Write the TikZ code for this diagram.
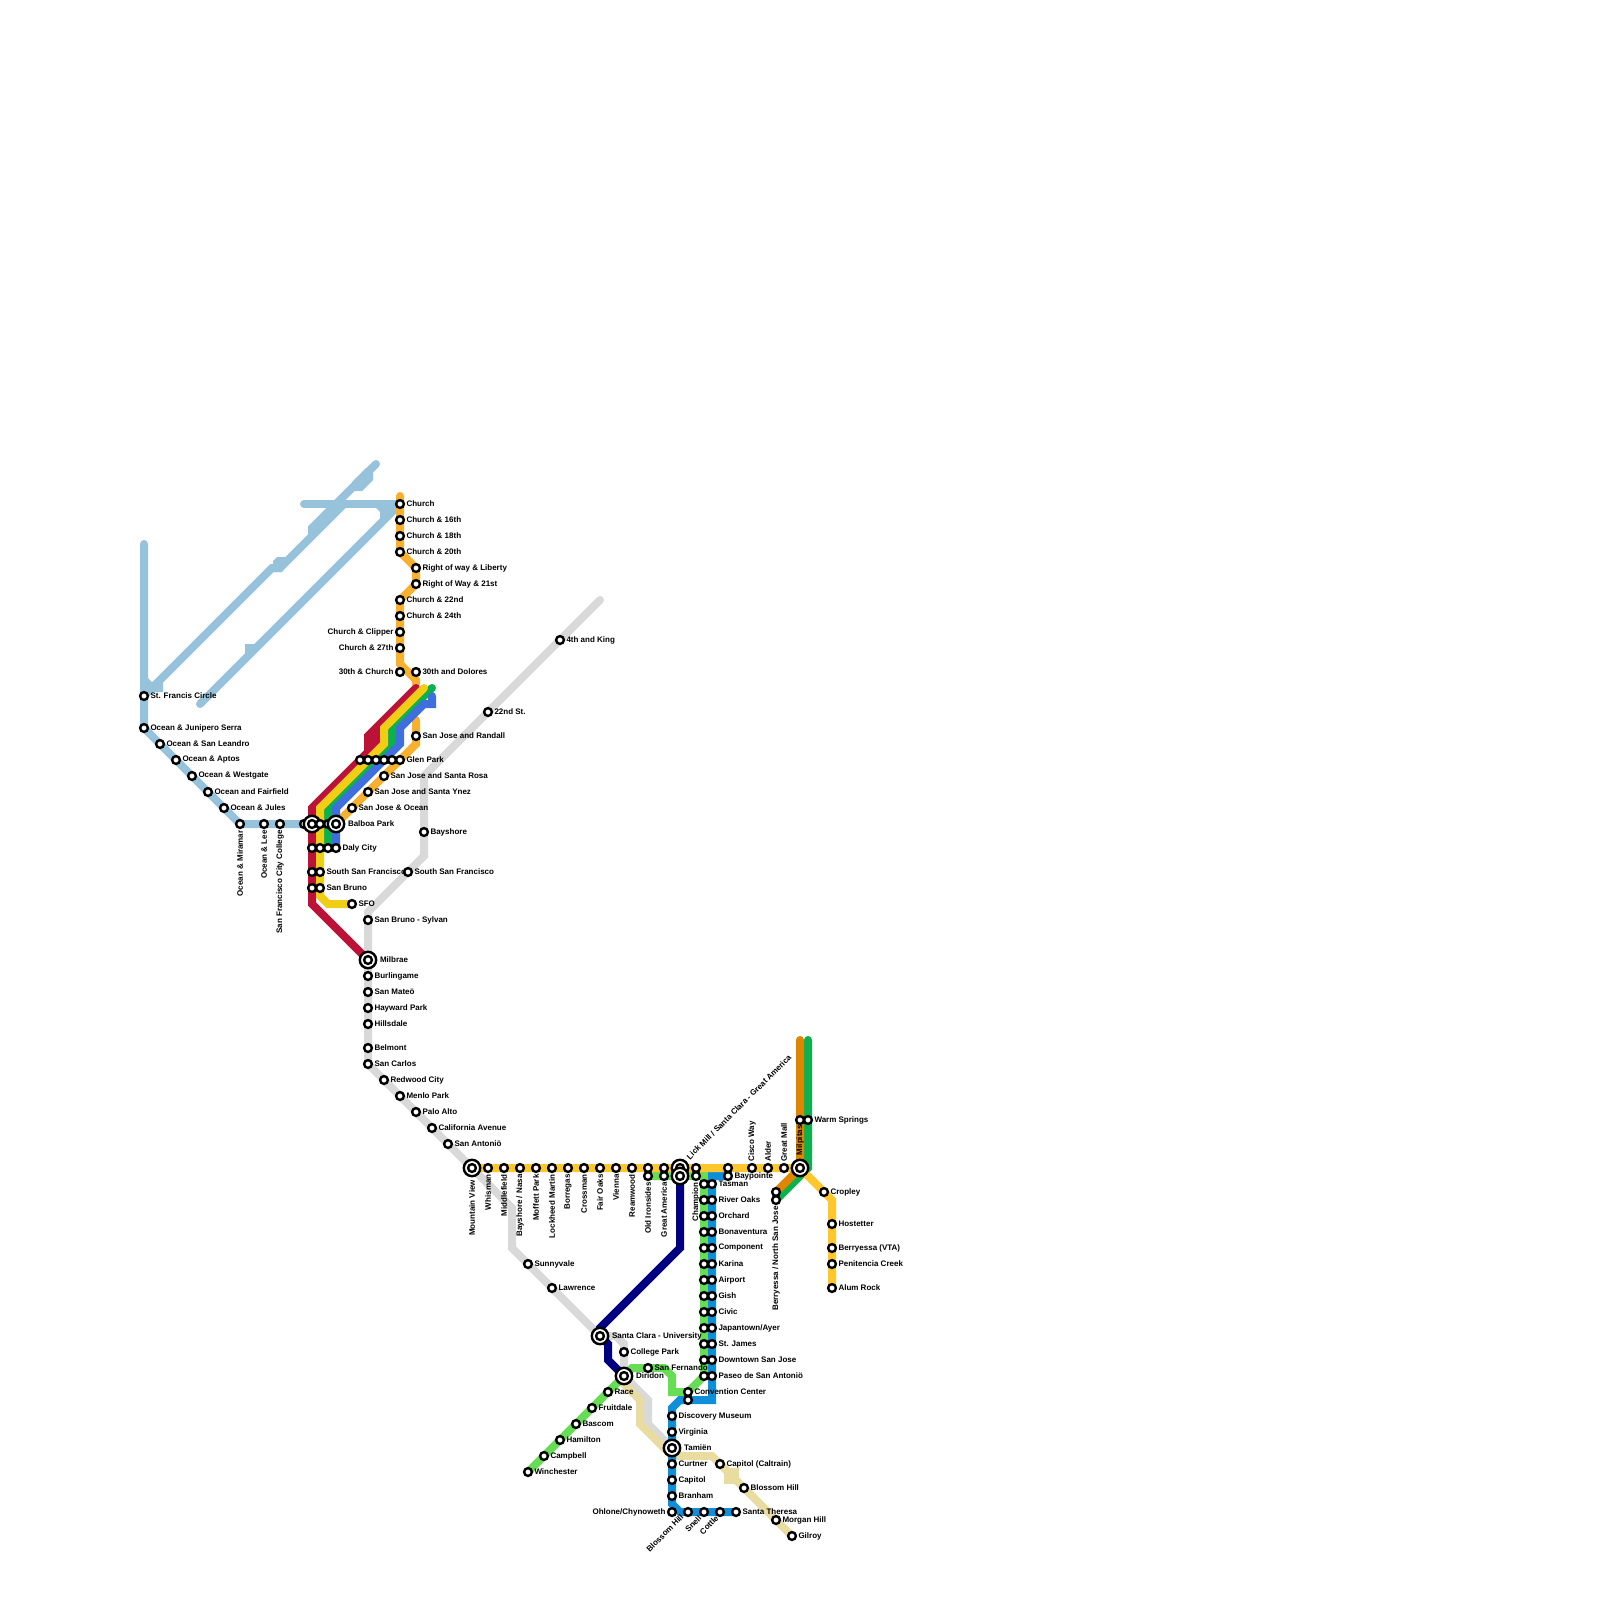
\documentclass[tikz,border=0pt]{standalone}
\usepackage{fontspec}
\setmainfont{Liberation Sans}
\usetikzlibrary{positioning,backgrounds}
\definecolor{skyline}{HTML}{96C2DB}
\definecolor{muni}{HTML}{F7B12E}
\definecolor{redline}{HTML}{BC1238}
\definecolor{yelline}{HTML}{F0CE15}
\definecolor{grnline}{HTML}{0CB14F}
\definecolor{bluline}{HTML}{3F6FDC}
\definecolor{grayline}{HTML}{D9D9D9}
\definecolor{goldline}{HTML}{FFC72C}
\definecolor{orgline}{HTML}{DE8600}
\definecolor{navyline}{HTML}{000080}
\definecolor{limeline}{HTML}{66DD55}
\definecolor{vtaline}{HTML}{0F8FD9}
\definecolor{beigeline}{HTML}{E8DCA0}
\tikzset{
  stn/.style={draw,circle,fill=white,line width=1.2pt,minimum size=3.9pt,inner sep=0pt,outer sep=0pt},
  bigstn/.style={draw,circle,fill=white,line width=1.2pt,minimum size=8.2pt,inner sep=0pt,outer sep=0pt},
  lbl/.style={font=\bfseries\fontsize{4}{4}\selectfont,inner sep=0pt,outer sep=0pt},
  lbld/.style={lbl,rotate=90,anchor=east},
  lblu/.style={lbl,rotate=90,anchor=west},
  lbldiag/.style={lbl,rotate=45,anchor=east},
  metro/.style={line width=4pt,line cap=round}
}
\begin{document}
\begin{tikzpicture}[x=.5pt,y=-.5pt]
\useasboundingbox (0,0) rectangle (1600,1600);
\coordinate (e1) at (144,544);
\coordinate (e2) at (376,464);
\coordinate (e3) at (200,704);
\coordinate (e4) at (304,504);
\coordinate (e5) at (400,496);
\coordinate (e6) at (416,684);
\coordinate (e7) at (416,720);
\coordinate (e8) at (600,600);
\coordinate (e9) at (424,688);
\coordinate (e10) at (432,688);
\coordinate (e11) at (432,696);
\coordinate (e12) at (800,1040);
\coordinate (e13) at (808,1040);
\coordinate (e14) at (416,688);
\node[stn] (francis) at (144,696) {};
\node[stn] (junipero) at (144,728) {};
\node[stn] (leandro) at (160,744) {};
\node[stn] (aptos) at (176,760) {};
\node[stn] (westgate) at (192,776) {};
\node[stn] (fairfield) at (208,792) {};
\node[stn] (jules) at (224,808) {};
\node[stn] (miramar) at (240,824) {};
\node[stn] (lee) at (264,824) {};
\node[stn] (sfcc) at (280,824) {};
\node[stn] (church) at (400,504) {};
\node[stn] (c16) at (400,520) {};
\node[stn] (c18) at (400,536) {};
\node[stn] (c20) at (400,552) {};
\node[stn] (liberty) at (416,568) {};
\node[stn] (w21) at (416,584) {};
\node[stn] (c22) at (400,600) {};
\node[stn] (c24) at (400,616) {};
\node[stn] (clipper) at (400,632) {};
\node[stn] (c27) at (400,648) {};
\node[stn] (c30) at (400,672) {};
\node[stn] (dolores) at (416,672) {};
\node[stn] (king) at (560,640) {};
\node[stn] (st22) at (488,712) {};
\node[stn] (randall) at (416,736) {};
\node[stn] (glen1) at (360,760) {};
\node[stn] (glen2) at (368,760) {};
\node[stn] (glen3) at (376,760) {};
\node[stn] (glen4) at (384,760) {};
\node[stn] (glen5) at (392,760) {};
\node[stn] (glen6) at (400,760) {};
\node[stn] (rosa) at (384,776) {};
\node[stn] (ynez) at (368,792) {};
\node[stn] (ocean) at (352,808) {};
\node[stn] (balb0) at (304,824) {};
\node[stn] (balb3) at (328,824) {};
\node[bigstn] (balb1) at (312,824) {};
\node[stn] (balb1in) at (312,824) {};
\node[stn] (balb2) at (320,824) {};
\node[bigstn] (balb4) at (336,824) {};
\node[stn] (balb4in) at (336,824) {};
\node[stn] (bayshore) at (424,832) {};
\node[stn] (daly1) at (312,848) {};
\node[stn] (daly2) at (320,848) {};
\node[stn] (daly3) at (328,848) {};
\node[stn] (daly4) at (336,848) {};
\node[stn] (ssf1) at (312,872) {};
\node[stn] (ssf2) at (320,872) {};
\node[stn] (ssf3) at (408,872) {};
\node[stn] (bruno1) at (312,888) {};
\node[stn] (bruno2) at (320,888) {};
\node[stn] (sfo) at (352,904) {};
\node[stn] (sylvan) at (368,920) {};
\node[bigstn] (milbrae) at (368,960) {};
\node[stn] (milbraein) at (368,960) {};
\node[stn] (burlin) at (368,976) {};
\node[stn] (mateo) at (368,992) {};
\node[stn] (hayward) at (368,1008) {};
\node[stn] (hillsd) at (368,1024) {};
\node[stn] (belmont) at (368,1048) {};
\node[stn] (carlos) at (368,1064) {};
\node[stn] (redwood) at (384,1080) {};
\node[stn] (menlo) at (400,1096) {};
\node[stn] (palo) at (416,1112) {};
\node[stn] (calave) at (432,1128) {};
\node[stn] (antonio) at (448,1144) {};
\node[bigstn] (mtview) at (472,1168) {};
\node[stn] (mtviewin) at (472,1168) {};
\node[stn] (whisman) at (488,1168) {};
\node[stn] (middle) at (504,1168) {};
\node[stn] (nasa) at (520,1168) {};
\node[stn] (moffett) at (536,1168) {};
\node[stn] (lockheed) at (552,1168) {};
\node[stn] (borregas) at (568,1168) {};
\node[stn] (crossman) at (584,1168) {};
\node[stn] (fairoaks) at (600,1168) {};
\node[stn] (vienna) at (616,1168) {};
\node[stn] (reamwood) at (632,1168) {};
\node[stn] (irons1) at (648,1168) {};
\node[stn] (irons2) at (648,1176) {};
\node[stn] (great1) at (664,1168) {};
\node[stn] (great2) at (664,1176) {};
\node[bigstn] (lick1) at (680,1168) {};
\node[stn] (lick1in) at (680,1168) {};
\node[bigstn] (lick2) at (680,1176) {};
\node[stn] (lick2in) at (680,1176) {};
\node[stn] (champ1) at (696,1168) {};
\node[stn] (champ2) at (696,1176) {};
\node[stn] (bay1) at (728,1168) {};
\node[stn] (bay2) at (728,1176) {};
\node[stn] (cisco) at (752,1168) {};
\node[stn] (alder) at (768,1168) {};
\node[stn] (gmall) at (784,1168) {};
\node[bigstn] (milpitas) at (800,1168) {};
\node[stn] (milpitasin) at (800,1168) {};
\node[stn] (warm1) at (800,1120) {};
\node[stn] (warm2) at (808,1120) {};
\node[stn] (berry1) at (776,1192) {};
\node[stn] (berry2) at (776,1200) {};
\node[stn] (cropley) at (824,1192) {};
\node[stn] (hostet) at (832,1224) {};
\node[stn] (berryv) at (832,1248) {};
\node[stn] (penit) at (832,1264) {};
\node[stn] (alum) at (832,1288) {};
\node[stn] (tas1) at (704,1184) {};
\node[stn] (tas2) at (712,1184) {};
\node[stn] (riv1) at (704,1200) {};
\node[stn] (riv2) at (712,1200) {};
\node[stn] (orc1) at (704,1216) {};
\node[stn] (orc2) at (712,1216) {};
\node[stn] (bon1) at (704,1232) {};
\node[stn] (bon2) at (712,1232) {};
\node[stn] (com1) at (704,1248) {};
\node[stn] (com2) at (712,1248) {};
\node[stn] (kar1) at (704,1264) {};
\node[stn] (kar2) at (712,1264) {};
\node[stn] (air1) at (704,1280) {};
\node[stn] (air2) at (712,1280) {};
\node[stn] (gis1) at (704,1296) {};
\node[stn] (gis2) at (712,1296) {};
\node[stn] (civ1) at (704,1312) {};
\node[stn] (civ2) at (712,1312) {};
\node[stn] (jap1) at (704,1328) {};
\node[stn] (jap2) at (712,1328) {};
\node[stn] (jam1) at (704,1344) {};
\node[stn] (jam2) at (712,1344) {};
\node[stn] (dow1) at (704,1360) {};
\node[stn] (dow2) at (712,1360) {};
\node[stn] (pas1) at (704,1376) {};
\node[stn] (pas2) at (712,1376) {};
\node[stn] (conv1) at (688,1392) {};
\node[stn] (conv2) at (688,1400) {};
\node[stn] (discov) at (672,1416) {};
\node[stn] (virgin) at (672,1432) {};
\node[bigstn] (tamien) at (672,1448) {};
\node[stn] (tamienin) at (672,1448) {};
\node[stn] (curtner) at (672,1464) {};
\node[stn] (capitol) at (672,1480) {};
\node[stn] (branham) at (672,1496) {};
\node[stn] (ohlone) at (672,1512) {};
\node[stn] (blossomv) at (688,1512) {};
\node[stn] (snell) at (704,1512) {};
\node[stn] (cottle) at (720,1512) {};
\node[stn] (theresa) at (736,1512) {};
\node[stn] (capcal) at (720,1464) {};
\node[stn] (blossomc) at (744,1488) {};
\node[stn] (morgan) at (776,1520) {};
\node[stn] (gilroy) at (792,1536) {};
\node[stn] (sunny) at (528,1264) {};
\node[stn] (lawrence) at (552,1288) {};
\node[bigstn] (sclara) at (600,1336) {};
\node[stn] (sclarain) at (600,1336) {};
\node[stn] (college) at (624,1352) {};
\node[stn] (fernando) at (648,1368) {};
\node[bigstn] (diridon) at (624,1376) {};
\node[stn] (diridonin) at (624,1376) {};
\node[stn] (race) at (608,1392) {};
\node[stn] (fruit) at (592,1408) {};
\node[stn] (bascom) at (576,1424) {};
\node[stn] (hamilton) at (560,1440) {};
\node[stn] (campbell) at (544,1456) {};
\node[stn] (winch) at (528,1472) {};
\node[lbl,right=1.3pt of francis] (tfrancis) {St. Francis Circle};
\node[lbl,right=1.3pt of junipero] (tjunipero) {Ocean \& Junipero Serra};
\node[lbl,right=1.3pt of leandro] (tleandro) {Ocean \& San Leandro};
\node[lbl,right=1.3pt of aptos] (taptos) {Ocean \& Aptos};
\node[lbl,right=1.3pt of westgate] (twestgate) {Ocean \& Westgate};
\node[lbl,right=1.3pt of fairfield] (tfairfield) {Ocean and Fairfield};
\node[lbl,right=1.3pt of jules] (tjules) {Ocean \& Jules};
\node[below=1.3pt of miramar,lbld] (tmiramar) {Ocean \& Miramar};
\node[below=1.3pt of lee,lbld] (tlee) {Ocean \& Lee};
\node[below=1.3pt of sfcc,lbld] (tsfcc) {San Francisco City College};
\node[lbl,right=1.3pt of church] (tchurch) {Church};
\node[lbl,right=1.3pt of c16] (tc16) {Church \& 16th};
\node[lbl,right=1.3pt of c18] (tc18) {Church \& 18th};
\node[lbl,right=1.3pt of c20] (tc20) {Church \& 20th};
\node[lbl,right=1.3pt of liberty] (tliberty) {Right of way \& Liberty};
\node[lbl,right=1.3pt of w21] (tw21) {Right of Way \& 21st};
\node[lbl,right=1.3pt of c22] (tc22) {Church \& 22nd};
\node[lbl,right=1.3pt of c24] (tc24) {Church \& 24th};
\node[lbl,left=1.3pt of clipper] (tclipper) {Church \& Clipper};
\node[lbl,left=1.3pt of c27] (tc27) {Church \& 27th};
\node[lbl,left=1.3pt of c30] (tc30) {30th \& Church};
\node[lbl,right=1.3pt of dolores] (tdolores) {30th and Dolores};
\node[lbl,right=1.3pt of king] (tking) {4th and King};
\node[lbl,right=1.3pt of st22] (tst22) {22nd St.};
\node[lbl,right=1.3pt of randall] (trandall) {San Jose and Randall};
\node[lbl,right=1.3pt of glen6] (tglen) {Glen Park};
\node[lbl,right=1.3pt of rosa] (trosa) {San Jose and Santa Rosa};
\node[lbl,right=1.3pt of ynez] (tynez) {San Jose and Santa Ynez};
\node[lbl,right=1.3pt of ocean] (tocean) {San Jose \& Ocean};
\node[lbl,right=1.9pt of balb4] (tbalboa) {Balboa Park};
\node[lbl,right=1.3pt of bayshore] (tbayshore) {Bayshore};
\node[lbl,right=1.3pt of daly4] (tdaly) {Daly City};
\node[lbl,right=1.3pt of ssf2] (tssf2) {South San Francisco};
\node[lbl,right=1.3pt of ssf3] (tssf3) {South San Francisco};
\node[lbl,right=1.3pt of bruno2] (tbruno) {San Bruno};
\node[lbl,right=1.3pt of sfo] (tsfo) {SFO};
\node[lbl,right=1.3pt of sylvan] (tsylvan) {San Bruno - Sylvan};
\node[lbl,right=1.9pt of milbrae] (tmilbrae) {Milbrae};
\node[lbl,right=1.3pt of burlin] (tburlin) {Burlingame};
\node[lbl,right=1.3pt of mateo] (tmateo) {San Mateö};
\node[lbl,right=1.3pt of hayward] (thayward) {Hayward Park};
\node[lbl,right=1.3pt of hillsd] (thillsd) {Hillsdale};
\node[lbl,right=1.3pt of belmont] (tbelmont) {Belmont};
\node[lbl,right=1.3pt of carlos] (tcarlos) {San Carlos};
\node[lbl,right=1.3pt of redwood] (tredwood) {Redwood City};
\node[lbl,right=1.3pt of menlo] (tmenlo) {Menlo Park};
\node[lbl,right=1.3pt of palo] (tpalo) {Palo Alto};
\node[lbl,right=1.3pt of calave] (tcalave) {California Avenue};
\node[lbl,right=1.3pt of antonio] (tantonio) {San Antoniö};
\node[below=1.9pt of mtview,lbld] (tmtview) {Mountain View};
\node[below=1.3pt of whisman,lbld] (twhisman) {Whisman};
\node[below=1.3pt of middle,lbld] (tmiddle) {Middlefield};
\node[below=1.3pt of nasa,lbld] (tnasa) {Bayshore / Nasa};
\node[below=1.3pt of moffett,lbld] (tmoffett) {Moffett Park};
\node[below=1.3pt of lockheed,lbld] (tlockheed) {Lockheed Martin};
\node[below=1.3pt of borregas,lbld] (tborregas) {Borregas};
\node[below=1.3pt of crossman,lbld] (tcrossman) {Crossman};
\node[below=1.3pt of fairoaks,lbld] (tfairoaks) {Fair Oaks};
\node[below=1.3pt of vienna,lbld] (tvienna) {Vienna};
\node[below=1.3pt of reamwood,lbld] (treamwood) {Reamwood};
\node[below=1.3pt of irons2,lbld] (tirons) {Old Ironsides};
\node[below=1.3pt of great2,lbld] (tgreat) {Great America};
\node[lbl,rotate=45,anchor=west] (tlick) at (688,1158) {Lick Mill / Santa Clara - Great America};
\node[below=1.3pt of champ2,lbld] (tchamp) {Champion};
\node[lbl,right=1.3pt of bay2] (tbay) {Baypointe};
\node[above=1.3pt of cisco,lblu] (tcisco) {Cisco Way};
\node[above=1.3pt of alder,lblu] (talder) {Alder};
\node[above=1.3pt of gmall,lblu] (tgmall) {Great Mall};
\node[above=2.4pt of milpitas,lblu] (tmilpitas) {Milpitas};
\node[lbl,right=1.3pt of warm2] (twarm) {Warm Springs};
\node[below=1.3pt of berry2,lbld] (tberry) {Berryessa / North San Jose};
\node[lbl,right=1.3pt of cropley] (tcropley) {Cropley};
\node[lbl,right=1.3pt of hostet] (thostet) {Hostetter};
\node[lbl,right=1.3pt of berryv] (tberryv) {Berryessa (VTA)};
\node[lbl,right=1.3pt of penit] (tpenit) {Penitencia Creek};
\node[lbl,right=1.3pt of alum] (talum) {Alum Rock};
\node[lbl,right=1.3pt of tas2] (ttas) {Tasman};
\node[lbl,right=1.3pt of riv2] (triv) {River Oaks};
\node[lbl,right=1.3pt of orc2] (torc) {Orchard};
\node[lbl,right=1.3pt of bon2] (tbon) {Bonaventura};
\node[lbl,right=1.3pt of com2] (tcom) {Component};
\node[lbl,right=1.3pt of kar2] (tkar) {Karina};
\node[lbl,right=1.3pt of air2] (tair) {Airport};
\node[lbl,right=1.3pt of gis2] (tgis) {Gish};
\node[lbl,right=1.3pt of civ2] (tciv) {Civic};
\node[lbl,right=1.3pt of jap2] (tjap) {Japantown/Ayer};
\node[lbl,right=1.3pt of jam2] (tjam) {St. James};
\node[lbl,right=1.3pt of dow2] (tdow) {Downtown San Jose};
\node[lbl,right=1.3pt of pas2] (tpas) {Paseo de San Antoniö};
\node[lbl,right=1.3pt of conv1] (tconv) {Convention Center};
\node[lbl,right=1.3pt of discov] (tdiscov) {Discovery Museum};
\node[lbl,right=1.3pt of virgin] (tvirgin) {Virginia};
\node[lbl,right=1.9pt of tamien] (ttamien) {Tamiën};
\node[lbl,right=1.3pt of curtner] (tcurtner) {Curtner};
\node[lbl,right=1.3pt of capitol] (tcapitol) {Capitol};
\node[lbl,right=1.3pt of branham] (tbranham) {Branham};
\node[lbl,left=1.3pt of ohlone] (tohlone) {Ohlone/Chynoweth};
\node[lbldiag] (tblossomv) at (682,1516) {Blossom Hill};
\node[lbldiag] (tsnell) at (700,1517) {Snell};
\node[lbldiag] (tcottle) at (717,1517) {Cottle};
\node[lbl,right=1.3pt of theresa] (ttheresa) {Santa Theresa};
\node[lbl,right=1.3pt of capcal] (tcapcal) {Capitol (Caltrain)};
\node[lbl,right=1.3pt of blossomc] (tblossomc) {Blossom Hill};
\node[lbl,right=1.3pt of morgan] (tmorgan) {Morgan Hill};
\node[lbl,right=1.3pt of gilroy] (tgilroy) {Gilroy};
\node[lbl,right=1.3pt of sunny] (tsunny) {Sunnyvale};
\node[lbl,right=1.3pt of lawrence] (tlawrence) {Lawrence};
\node[lbl,right=1.9pt of sclara] (tsclara) {Santa Clara - University};
\node[lbl,right=1.3pt of college] (tcollege) {College Park};
\node[lbl,right=1.3pt of fernando] (tfernando) {San Fernando};
\node[lbl,right=1.9pt of diridon] (tdiridon) {Diridon};
\node[lbl,right=1.3pt of race] (trace) {Race};
\node[lbl,right=1.3pt of fruit] (tfruit) {Fruitdale};
\node[lbl,right=1.3pt of bascom] (tbascom) {Bascom};
\node[lbl,right=1.3pt of hamilton] (thamilton) {Hamilton};
\node[lbl,right=1.3pt of campbell] (tcampbell) {Campbell};
\node[lbl,right=1.3pt of winch] (twinch) {Winchester};
\begin{scope}[on background layer]
\draw[metro,skyline] (e1) -- (francis.center) -- (junipero.center) -- (miramar.center) -- (balb0.center);
\draw[metro,skyline,line cap=butt] (francis.center) -- (272,568) -- (280,568) -- (344,504);
\draw[metro,skyline] (312,536) -- (312,528) -- (e2);
\draw[metro,skyline] (e3) -- (church.center);
\draw[metro,skyline] (e4) -- (church.center);
\fill[skyline] (148,678) -- (152,682) -- (158,680) -- (163,680) -- (163,692) -- (148,692) -- cycle;
\fill[skyline] (273,572) -- (282,572) -- (287,565) -- (287,557) -- (277,557) -- (273,561) -- cycle;
\fill[skyline] (352,482) -- (352,491) -- (362,491) -- (373,480) -- (373,470) -- (366,468) -- cycle;
\fill[skyline] (245,644) -- (257,644) -- (257,648) -- (245,660) -- cycle;
\fill[skyline] (375,507) -- (380,512) -- (380,522) -- (390,512) -- (390,507) -- cycle;
\draw[metro,muni] (e5) -- (c20.center) -- (liberty.center) -- (w21.center) -- (c22.center) -- (400,664) -- (416,680) -- (e6);
\draw[metro,muni] (e7) -- (416,744) -- (glen6.center) -- (balb4.center);
\draw[metro,grayline] (e8) -- (424,776) -- (bayshore.center) -- (424,856) -- (ssf3.center) -- (368,912) -- (carlos.center) -- (mtview.center) -- (512,1208) -- (512,1248) -- (sclara.center) -- (616,1336) -- (624,1344) -- (diridon.center) -- (648,1400) -- (648,1424) -- (tamien.center);
\draw[metro,beigeline] (diridon.center) -- (624,1384) -- (640,1400) -- (640,1424) -- (664,1448) -- (672,1456) -- (712,1456) -- (gilroy.center);
\fill[beigeline] (724,1468) rectangle (739,1484);
\draw[metro,limeline] (winch.center) -- (diridon.center) -- (632,1368) -- (664,1368) -- (672,1376) -- (672,1392) -- (688,1392) -- (704,1376) -- (704,1176) -- (irons2.center);
\draw[metro,vtaline] (bay2.center) -- (712,1176) -- (712,1400) -- (680,1400) -- (672,1408) -- (672,1504) -- (680,1512) -- (theresa.center);
\draw[metro,navyline] (lick2.center) -- (680,1248) -- (600,1328) -- (sclara.center) -- (608,1344) -- (608,1360) -- (diridon.center);
\draw[metro,grnline] (e13) -- (808,1168) -- (berry2.center);
\draw[metro,orgline] (e12) -- (milpitas.center) -- (berry1.center);
\draw[metro,goldline] (mtview.center) -- (milpitas.center) -- (832,1200) -- (alum.center);
\draw[metro,redline] (e14) -- (368,736) -- (368,752) -- (312,808) -- (312,904) -- (milbrae.center);
\draw[metro,redline,line cap=butt] (376,728) -- (376,752);
\draw[metro,grnline] (e10) -- (392,728) -- (392,744) -- (328,808) -- (daly3.center);
\draw[metro,yelline] (e9) -- (384,728) -- (384,744) -- (320,808) -- (320,896) -- (328,904) -- (sfo.center);
\draw[metro,bluline] (e11) -- (432,704) -- (424,704) -- (400,728) -- (400,744) -- (336,808) -- (daly4.center);
\end{scope}
\end{tikzpicture}
\end{document}
